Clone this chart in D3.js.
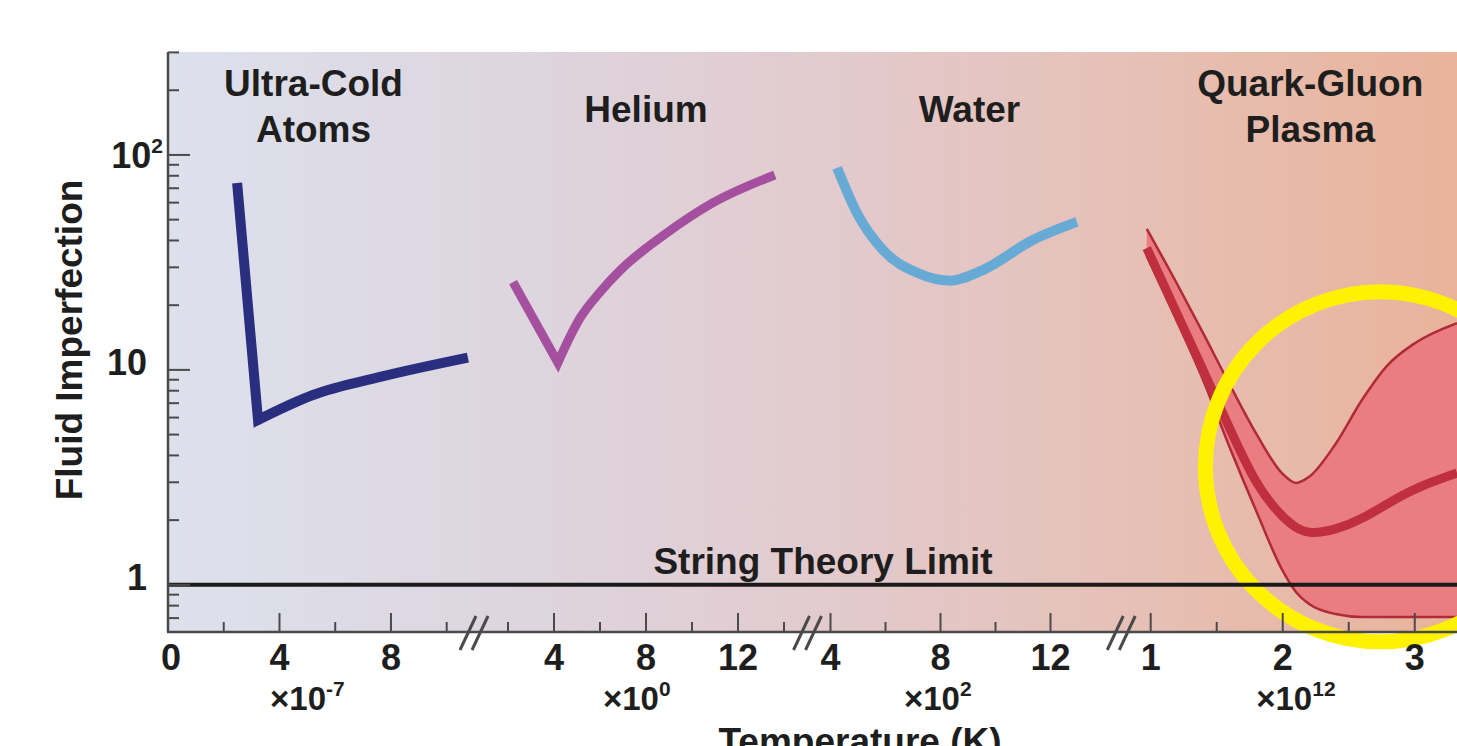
<!DOCTYPE html>
<html lang="en">
<head>
<meta charset="UTF-8">
<title>Fluid Imperfection vs Temperature</title>
<script src="https://d3js.org/d3.v7.min.js"></script>
<style>
  html, body { margin: 0; padding: 0; background: #fff; }
  svg { display: block; }
  text { font-family: "Liberation Sans", Arial, Helvetica, sans-serif; font-weight: bold; fill: #1e1e1e; }
</style>
</head>
<body>
<svg id="chart" width="1457" height="746"></svg>
<script>
// --- data ---
const categoryLines = [["Ultra-Cold", "Atoms"], ["Helium"], ["Water"], ["Quark-Gluon", "Plasma"]];
const multiplierExp = ["-7", "0", "2", "12"];
const multiplierAt = [5.0, 7.6, 7.9, 2.1];

// x tick values per segment
const majorTicks = [[4, 8], [4, 8, 12], [4, 8, 12], [1, 2, 3]];
const minorTicks = [[2, 6, 10], [2, 6, 10, 14], [6, 10], [1.5, 2.5]];
const tickLabels = [[0, 4, 8], [4, 8, 12], [4, 8, 12], [1, 2, 3]];

// y ticks (log)
const yMajor = [1, 10, 100];
const yMinor = [0.7, 0.8, 0.9, 2, 3, 4, 5, 6, 7, 8, 9, 20, 30, 40, 50, 60, 70, 80, 90, 200, 300];

// ultra-cold atoms
const coldT = [2.48, 3.23, 5.2, 7.61, 10.76];
const coldEta = [74, 5.85, 7.64, 9.27, 11.4];
// helium
const heliumT = [2.22, 4.17, 4.6, 5.13, 6.0, 6.87, 8.91, 10.9, 13.6];
const heliumEta = [25.6, 10.8, 13.6, 17.4, 23.0, 29.0, 43.4, 59.8, 80.7];
// water
const waterT = [4.24, 4.96, 5.91, 7.15, 8.35, 9.55, 11.36, 12.96];
const waterEta = [87, 53.7, 36.1, 28.3, 26.0, 29.2, 40.2, 48.8];
// quark-gluon plasma
const qgpT = [0.97, 1.2, 1.4, 1.6, 1.8, 2.0, 2.1, 2.2, 2.4, 2.6, 2.8, 3.0, 3.32];
const qgpUpper = [45.3, 25.1, 14.7, 8.51, 5.04, 3.28, 2.98, 3.18, 4.52, 7.24, 10.6, 13.3, 16.5];
const qgpCentral = [36.9, 18.2, 9.89, 5.31, 2.88, 2.05, 1.84, 1.72, 1.8, 2.02, 2.4, 2.82, 3.31];
const qgpLower = [33.9, 16.9, 8.88, 4.33, 2.2, 1.16, 0.926, 0.814, 0.731, 0.708, 0.708, 0.708, 0.708];

const stringLimit = 1;

// --- layout ---
const svg = d3.select("#chart");
const plot = {left: 168, right: 1457, top: 52, bottom: 632};

const segments = [
  {domain: [0, 10.8], range: [168, 469]},
  {domain: [1, 15], range: [485, 807]},
  {domain: [3.4, 14.2], range: [814, 1111]},
  {domain: [0.9, 3.32], range: [1137.5, 1457]}
];
const headingShift = [-5, 0, 7, 13];
const xs = segments.map(s => d3.scaleLinear().domain(s.domain).range(s.range));
const y = d3.scaleLog().domain([0.6, 300]).range([plot.bottom + 0.5, plot.top + 0.4]);

// background gradient
const defs = svg.append("defs");
const grad = defs.append("linearGradient").attr("id", "bg").attr("x1", "0%").attr("x2", "100%");
[["0%", "#dde1ec"], ["25%", "#ddd6e0"], ["50%", "#e2cbcf"], ["75%", "#e6c0b6"], ["100%", "#e9b39a"]]
  .forEach(s => grad.append("stop").attr("offset", s[0]).attr("stop-color", s[1]));
const clip = defs.append("clipPath").attr("id", "plotclip");
clip.append("rect").attr("x", plot.left).attr("y", plot.top)
  .attr("width", plot.right - plot.left).attr("height", plot.bottom - plot.top);

svg.append("rect")
  .attr("x", plot.left).attr("y", plot.top)
  .attr("width", plot.right - plot.left).attr("height", plot.bottom - plot.top)
  .attr("fill", "url(#bg)");

// category headings
const headG = svg.append("g");
categoryLines.forEach((lines, i) => {
  const cx = (segments[i].range[0] + segments[i].range[1]) / 2 + headingShift[i];
  const base = lines.length === 2 ? 96 : 122;
  lines.forEach((t, j) => {
    headG.append("text").attr("x", cx).attr("y", base + j * 46)
      .attr("text-anchor", "middle").attr("font-size", 37).text(t);
  });
});

// piecewise path: straight into the corner, smooth after it
function cornerPath(xScale, tv, ev, cornerIdx) {
  const pts = tv.map((t, i) => [xScale(t), y(ev[i])]);
  const lin = d3.line().curve(d3.curveLinear);
  const smooth = d3.line().curve(d3.curveMonotoneX);
  if (cornerIdx <= 0) return smooth(pts);
  const a = lin(pts.slice(0, cornerIdx + 1));
  const b = smooth(pts.slice(cornerIdx));
  return a + b.replace(/^M[^LC]*/, "");
}

const curves = svg.append("g").attr("clip-path", "url(#plotclip)");

curves.append("path")
  .attr("d", cornerPath(xs[0], coldT, coldEta, 1))
  .attr("fill", "none").attr("stroke", "#2a2e7e").attr("stroke-width", 10)
  .attr("stroke-linejoin", "miter");

curves.append("path")
  .attr("d", cornerPath(xs[1], heliumT, heliumEta, 1))
  .attr("fill", "none").attr("stroke", "#a4509e").attr("stroke-width", 9)
  .attr("stroke-linejoin", "miter").attr("stroke-miterlimit", 8);

curves.append("path")
  .attr("d", cornerPath(xs[2], waterT, waterEta, 0))
  .attr("fill", "none").attr("stroke", "#68aad6").attr("stroke-width", 10);

// QGP band
const qx = xs[3];
const qgpRows = qgpT.map((t, i) => ({t: t, hi: qgpUpper[i], mid: qgpCentral[i], lo: qgpLower[i]}));
curves.append("path")
  .datum(qgpRows)
  .attr("d", d3.area().curve(d3.curveMonotoneX)
    .x(d => qx(d.t)).y0(d => y(d.lo)).y1(d => y(d.hi)))
  .attr("fill", "#e97d7f");
["hi", "lo"].forEach(k => {
  curves.append("path").datum(qgpRows)
    .attr("d", d3.line().curve(d3.curveMonotoneX).x(d => qx(d.t)).y(d => y(d[k])))
    .attr("fill", "none").attr("stroke", "#b02a38").attr("stroke-width", 2.5);
});
curves.append("path").datum(qgpRows)
  .attr("d", d3.line().curve(d3.curveBasis).x(d => qx(d.t)).y(d => y(d.mid)))
  .attr("fill", "none").attr("stroke", "#bf2f3d").attr("stroke-width", 9);

// yellow highlight circle (spills past the axis, as in the picture)
svg.append("circle")
  .attr("cx", qx(2.74)).attr("cy", y(3.54)).attr("r", 175)
  .attr("fill", "none").attr("stroke", "#fff200").attr("stroke-width", 15);

// string theory limit
svg.append("line")
  .attr("x1", plot.left).attr("x2", plot.right)
  .attr("y1", y(stringLimit)).attr("y2", y(stringLimit))
  .attr("stroke", "#1a1a1a").attr("stroke-width", 4);
svg.append("text")
  .attr("x", 823).attr("y", y(stringLimit) - 11)
  .attr("text-anchor", "middle").attr("font-size", 37)
  .text("String Theory Limit");

// --- axes ---
const axisColor = "#4a4a4a";
const ax = svg.append("g");
ax.append("line").attr("x1", plot.left).attr("x2", plot.left)
  .attr("y1", plot.top).attr("y2", plot.bottom)
  .attr("stroke", axisColor).attr("stroke-width", 2.5);
ax.append("line").attr("x1", plot.left - 1).attr("x2", plot.right)
  .attr("y1", plot.bottom).attr("y2", plot.bottom)
  .attr("stroke", axisColor).attr("stroke-width", 2.5);

// y ticks
yMajor.concat(yMinor).forEach(v => {
  const len = yMajor.includes(v) ? 22 : 11;
  ax.append("line").attr("x1", plot.left).attr("x2", plot.left + len)
    .attr("y1", y(v)).attr("y2", y(v))
    .attr("stroke", axisColor).attr("stroke-width", 2);
});
yMajor.forEach(v => {
  const t = ax.append("text").attr("font-size", 36).attr("text-anchor", "end");
  if (v === 100) {
    t.attr("x", 163).attr("y", y(v) + 13);
    t.append("tspan").text("10");
    t.append("tspan").attr("font-size", 21).attr("dy", -15).text("2");
  } else {
    t.attr("x", 147).attr("y", y(v) + 5).text(v);
  }
});

// y title
svg.append("text")
  .attr("transform", "translate(82," + 340 + ") rotate(-90)")
  .attr("text-anchor", "middle").attr("font-size", 37)
  .text("Fluid Imperfection");

// x ticks per segment
xs.forEach((sc, i) => {
  majorTicks[i].forEach(v => {
    ax.append("line").attr("x1", sc(v)).attr("x2", sc(v))
      .attr("y1", plot.bottom).attr("y2", plot.bottom - 19)
      .attr("stroke", axisColor).attr("stroke-width", 2);
  });
  minorTicks[i].forEach(v => {
    ax.append("line").attr("x1", sc(v)).attr("x2", sc(v))
      .attr("y1", plot.bottom).attr("y2", plot.bottom - 10)
      .attr("stroke", axisColor).attr("stroke-width", 2);
  });
  tickLabels[i].forEach(v => {
    ax.append("text").attr("x", sc(v) + (v === 0 ? 3 : 0)).attr("y", 670)
      .attr("text-anchor", "middle").attr("font-size", 36).text(v);
  });
  const m = ax.append("text").attr("x", sc(multiplierAt[i])).attr("y", 710)
    .attr("text-anchor", "middle").attr("font-size", 33);
  m.append("tspan").text("\u00d710");
  m.append("tspan").attr("font-size", 21).attr("dy", -14).text(multiplierExp[i]);
});

// axis breaks
for (let i = 0; i < segments.length - 1; i++) {
  const c = (segments[i].range[1] + segments[i + 1].range[0]) / 2 - 3;
  [-1, 1].forEach(k => {
    ax.append("line")
      .attr("x1", c + k * 6 - 8).attr("y1", plot.bottom + 18)
      .attr("x2", c + k * 6 + 8).attr("y2", plot.bottom - 16)
      .attr("stroke", axisColor).attr("stroke-width", 3);
  });
}

// x title (cut off at the bottom edge, as in the picture)
svg.append("text")
  .attr("x", 860).attr("y", 754)
  .attr("text-anchor", "middle").attr("font-size", 37)
  .text("Temperature (K)");
</script>
</body>
</html>
